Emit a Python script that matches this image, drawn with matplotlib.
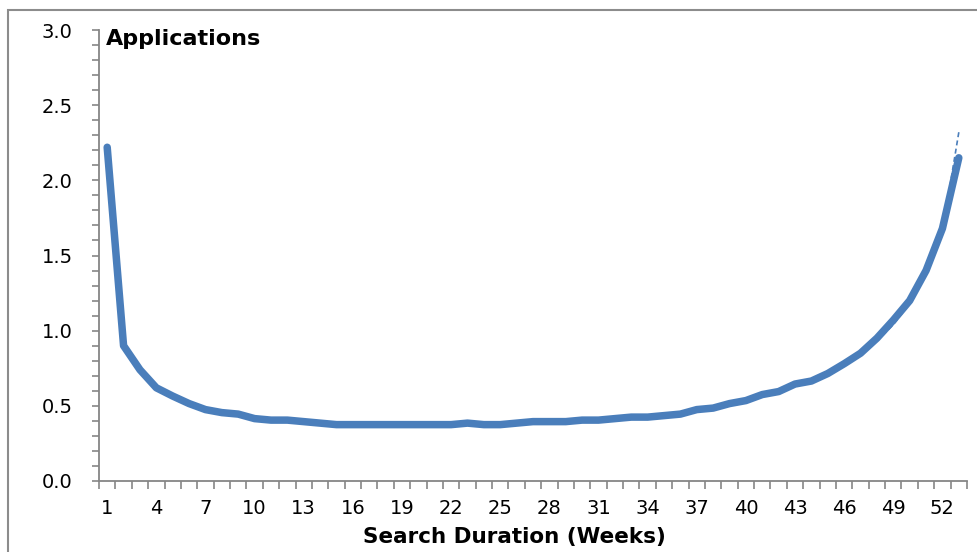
import matplotlib
matplotlib.use("Agg")
import matplotlib.pyplot as plt
from matplotlib.patches import Rectangle
from matplotlib.ticker import FixedLocator, MultipleLocator

plt.rcParams['font.family'] = ['DejaVu Sans']

weeks = list(range(1, 54))
applications = [2.22, 0.90, 0.74, 0.62, 0.565, 0.515, 0.475, 0.455, 0.445, 0.415,
                0.405, 0.405, 0.395, 0.385, 0.375, 0.375, 0.375, 0.375, 0.375, 0.375,
                0.375, 0.375, 0.385, 0.375, 0.375, 0.385, 0.395, 0.395, 0.395, 0.405,
                0.405, 0.415, 0.425, 0.425, 0.435, 0.445, 0.475, 0.485, 0.515, 0.535,
                0.575, 0.595, 0.645, 0.665, 0.715, 0.78, 0.85, 0.95, 1.07, 1.20,
                1.40, 1.68, 2.15]
trend_weeks = [48, 49, 50, 51, 52, 53]
trend_values = [0.93, 1.04, 1.18, 1.37, 1.66, 2.32]
x_tick_labels = [str(w) for w in range(1, 54, 3)]

W, H = 977, 552
fig = plt.figure(figsize=(W / 100, H / 100), dpi=100)
ax = fig.add_axes([99 / W, 1 - 481 / H, (967 - 99) / W, (481 - 30) / H])

line_color = '#4A7EBB'
ax.plot(weeks, applications, color=line_color, lw=5.4, solid_capstyle='round',
        solid_joinstyle='round', zorder=3)
ax.plot(trend_weeks, trend_values, color=line_color, lw=1.2, ls=(0, (3, 2)), zorder=2)

ax.set_xlim(0.5, 53.5)
ax.set_ylim(0, 3.0)

grey = '#868686'
for s in ['top', 'right']:
    ax.spines[s].set_visible(False)
for s in ['left', 'bottom']:
    ax.spines[s].set_color(grey)
    ax.spines[s].set_linewidth(1.3)

# x axis: labels at every 3rd category, tick marks between categories
ax.xaxis.set_major_locator(FixedLocator(list(range(1, 54, 3))))
ax.set_xticklabels(x_tick_labels)
ax.xaxis.set_minor_locator(FixedLocator([w + 0.5 for w in range(0, 54)]))
ax.tick_params(axis='x', which='major', length=0, pad=13, labelsize=14, colors='black')
ax.tick_params(axis='x', which='minor', length=6, width=1.2, color=grey, direction='out')

ax.yaxis.set_major_locator(MultipleLocator(0.5))
ax.yaxis.set_minor_locator(MultipleLocator(0.1))
ax.yaxis.set_major_formatter(matplotlib.ticker.FormatStrFormatter('%.1f'))
ax.tick_params(axis='y', which='both', length=5, width=1.2, color=grey, direction='out')
ax.tick_params(axis='y', which='major', labelsize=14, pad=14, labelcolor='black')

fig.text(514 / W, 1 - 537 / H, 'Search Duration (Weeks)', ha='center', va='center',
         fontsize=15.5, fontweight='bold')
fig.text(106 / W, 1 - 39 / H, 'Applications', ha='left', va='center',
         fontsize=16, fontweight='bold')

# outer chart border
fig.patches.append(Rectangle((8 / W, -0.05), 1.2, (1 - 10 / H) + 0.05,
                             transform=fig.transFigure, fill=False,
                             edgecolor='#8c8c8c', lw=1.5))

fig.savefig('out.png', dpi=100)
